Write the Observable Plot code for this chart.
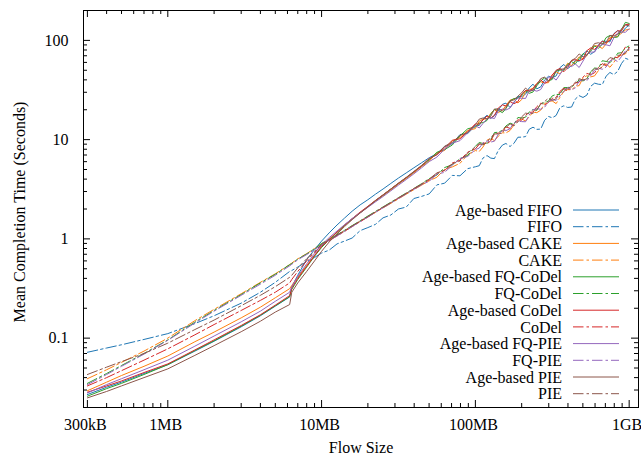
<!DOCTYPE html>
<html><head><meta charset="utf-8">
<script src="https://cdn.jsdelivr.net/npm/d3@7"></script>
<script src="https://cdn.jsdelivr.net/npm/@observablehq/plot@0.6"></script>
<style>html,body{margin:0;padding:0;background:#fff;} svg{display:block;}</style>
</head><body><div id="chart"></div>
<script>
// Flow sizes in MB
const sizesLow = [0.3,0.4,0.5,0.7,1,1.5,2,3,4,5,6.2];
const sizesStep = [6.4,7,8,9];
const sizesHigh = [10,11.2,12.6,14.1,15.8,17.8,20,22.4,25.1,28.2,31.6,35.5,39.8,44.7,50.1,56.2,63.1,70.8,79.4,89.1,100,112,126,141,158,178,200,224,251,282,316,355,398,447,501,562,631,708,794,891,1000];
const sizesMB = [...sizesLow, ...sizesStep, ...sizesHigh];
// extra flow sizes in the dense (noisy) range
const sizesMid = [106,119,133,150,168,189,212,237,266,299,335,376,422,473,531,596,669,750,842,945];

const seriesNames = ["Age-based FIFO","FIFO","Age-based CAKE","CAKE","Age-based FQ-CoDel","FQ-CoDel","Age-based CoDel","CoDel","Age-based FQ-PIE","FQ-PIE","Age-based PIE","PIE"];
const seriesColors = ["#1f77b4","#1f77b4","#ff7f0e","#ff7f0e","#2ca02c","#2ca02c","#d62728","#d62728","#9467bd","#9467bd","#8c564b","#8c564b"];
const seriesDashed = [false,true,false,true,false,true,false,true,false,true,false,true];

// Mean completion time (s) at sizesMB
const ageFIFO = [0.027,0.032,0.036,0.044,0.054,0.074,0.093,0.13,0.168,0.21,0.26,
  0.33,0.43,0.62,0.78,
  0.95,1.15,1.38,1.62,1.9,2.2,2.48,2.82,3.18,3.62,4.1,4.62,5.2,5.85,6.57,7.24,8.5,9.11,11.24,11.52,13.74,16.22,16.34,19.88,23.33,23.47,27.2,33.25,32.49,39.94,42.14,53.13,51.84,62.83,72.76,72.38,90.3,97.97,116.6,118.3,142.5];
const fifo = [0.072,0.0795,0.0857,0.097,0.111,0.14,0.168,0.225,0.29,0.365,0.47,
  0.48,0.52,0.59,0.65,
  0.72,0.77,0.89,0.95,1.02,1.21,1.3,1.4,1.63,1.74,2.0,2.09,2.55,2.68,2.84,3.5,3.64,4.36,4.32,5.1,5.33,6.52,6.51,7.8,9.15,9.17,10.59,12.72,12.69,15.66,16.59,21.06,21.09,25.7,26.6,34.45,36.16,43.58,45.22,58.32,63.86];
const ageCAKE = [0.0295,0.036,0.042,0.052,0.066,0.092,0.115,0.16,0.205,0.255,0.315,
  0.34,0.41,0.54,0.68,
  0.83,0.99,1.17,1.36,1.58,1.83,2.1,2.4,2.72,3.1,3.56,4.05,4.62,5.35,6.08,7.38,7.78,9.75,10.5,12.36,12.92,16.07,18.4,18.72,22.03,25.65,25.3,31.72,36.94,37.25,45.15,45.89,58.86,61,65.28,82.39,87.72,92.15,108,118.3,128.8];
const cake = [0.039,0.048,0.057,0.074,0.1,0.15,0.195,0.28,0.365,0.445,0.55,
  0.57,0.63,0.71,0.8,
  0.89,0.98,1.09,1.21,1.35,1.5,1.67,1.85,2.05,2.28,2.53,2.82,3.13,3.48,3.85,4.18,5.03,5.31,5.77,7.05,7.76,8.41,10.35,10.85,11.68,14.06,16.16,17.0,18.69,23.05,24.54,26.7,31.9,34.37,41.81,42.85,49.59,57.94,59.88,70.79,80];
const ageFQCoDel = [0.026,0.031,0.035,0.043,0.054,0.075,0.094,0.132,0.17,0.212,0.262,
  0.31,0.39,0.52,0.67,
  0.82,0.98,1.16,1.37,1.59,1.84,2.11,2.43,2.76,3.17,3.62,4.13,4.72,5.45,6.26,7.46,7.94,8.83,10.92,12.84,13.46,14.84,18.06,19.69,20.52,25.89,28.02,29.28,34.88,41.86,40.42,50.23,57.24,57.95,73.44,77.77,83.42,106.7,106.9,128.1,148];
const fqCoDel = [0.035,0.044,0.053,0.07,0.096,0.145,0.19,0.275,0.36,0.44,0.55,
  0.565,0.625,0.705,0.795,
  0.9,0.99,1.1,1.22,1.36,1.52,1.7,1.89,2.1,2.34,2.6,2.9,3.22,3.6,4.05,4.4,5.23,5.59,6.45,6.91,8.56,9.13,9.95,11.87,13.72,14.2,16.48,18.97,19.7,23.5,27.58,28.4,33.5,36.52,38.99,48.26,52.12,61.34,63.7,75.08,88];
const ageCoDel = [0.0285,0.033,0.037,0.045,0.055,0.076,0.096,0.134,0.172,0.215,0.268,
  0.32,0.4,0.53,0.68,
  0.84,0.99,1.17,1.38,1.6,1.86,2.13,2.44,2.78,3.18,3.63,4.14,4.74,5.44,6.45,7.03,8.26,9.84,10.19,12,14.42,15.76,16.51,20.84,21.82,22.99,28.83,31.11,36.59,36.86,44.72,52.16,52.92,64.05,64.6,83.93,88.58,94.09,115.6,124.4,145.2];
const coDel = [0.033,0.04,0.047,0.06,0.078,0.108,0.137,0.19,0.24,0.29,0.36,
  0.39,0.47,0.6,0.73,
  0.86,0.96,1.07,1.19,1.33,1.49,1.66,1.86,2.08,2.31,2.58,2.87,3.2,3.56,3.93,4.58,4.88,5.81,6.2,7.47,8.08,9.31,9.75,11.64,13.46,14.48,15.68,18.8,21.51,22.37,26.06,30.67,30.94,37.23,42.61,45.1,53.13,55.66,68.16,73.65,84.8];
const ageFQPIE = [0.028,0.034,0.039,0.048,0.06,0.083,0.105,0.146,0.187,0.235,0.29,
  0.33,0.42,0.56,0.71,
  0.87,1.03,1.2,1.39,1.6,1.83,2.08,2.36,2.67,3.05,3.48,3.96,4.52,5.2,6.01,6.67,8.02,9.2,9.77,11.76,13.87,14.54,16.68,19.49,19.87,23.96,26.11,31.11,30.78,37.25,43,45.4,55.62,57.95,61.88,76.23,87.72,90.21,105.8,122,131.5];
const fqPIE = [0.034,0.043,0.052,0.069,0.095,0.142,0.187,0.27,0.35,0.43,0.535,
  0.555,0.615,0.695,0.78,
  0.87,0.97,1.07,1.19,1.33,1.49,1.66,1.85,2.06,2.29,2.55,2.84,3.15,3.51,3.81,4.49,4.68,5.53,6.45,6.77,7.92,9.22,9.45,11.3,12.32,14.77,15.2,17.72,20.5,21.24,25.3,27.55,33.5,33.29,40.2,44.2,52.62,53.96,64.34,68.64,81.6];
const agePIE = [0.025,0.029,0.033,0.04,0.049,0.067,0.084,0.116,0.148,0.183,0.218,
  0.29,0.36,0.47,0.6,
  0.75,0.93,1.12,1.33,1.56,1.82,2.1,2.42,2.77,3.18,3.65,4.16,4.78,5.5,6.39,7.1,8.59,9.38,11.03,11.76,14.14,16.52,17.2,20.46,20.95,25.17,29.65,30.5,35.91,42.62,41.71,51.2,55.08,65.88,68,80.85,94.6,95.06,112.3,130.5,139.7];
const pie = [0.043,0.051,0.058,0.07,0.089,0.122,0.152,0.212,0.27,0.33,0.41,
  0.43,0.51,0.63,0.75,
  0.88,0.98,1.09,1.21,1.35,1.51,1.68,1.87,2.08,2.32,2.58,2.87,3.19,3.55,4.01,4.62,4.93,5.7,6.08,7.33,8.48,8.86,10.55,11.41,13.21,13.77,16.96,18.26,20.1,24.18,24.79,29.54,32.54,37.95,39.8,47.36,51.11,60.78,65.61,71.5,84];

// Mean completion time (s) at sizesMid
const ageFIFOMid = [13.9,17.6,17.4,22.7,21.1,27.1,28.7,36.2,34.0,43.5,43.8,57.2,55.6,61.7,78.4,77.2,97.9,96.6,125.7,133.0];
const fifoMid = [5.46,6.91,6.44,8.82,8.52,10.57,10.73,13.34,12.76,17.1,17.51,21.92,21.29,27.72,28.09,37.07,35.88,47.51,48.66,65.98];
const ageCAKEMid = [15.4,16.2,20.0,19.8,25.0,23.4,30.5,33.0,38.2,37.5,48.3,51.3,55.7,68.2,70.1,88.5,82.7,106.1,109.8,127.3];
const cakeMid = [7.6,9.85,9.75,11.72,12.36,15.56,15.42,18.92,19.83,24.28,23.06,30.77,31.81,35.04,44.02,43.91,54.31,53.61,68.61,73.14];
const ageFQCoDelMid = [14.7,15.6,20.2,18.7,24.6,26.2,31.2,30.2,39.1,39.1,49.0,50.0,61.1,65.7,71.1,87.9,91.3,112.1,108.1,151.9];
const fqCoDelMid = [9.38,9.16,11.78,12.42,14.66,16.72,16.84,20.11,23.11,24.52,28.55,33.43,33.96,40.03,41.01,52.7,62.4,60.02,74.25,83.99];
const ageCoDelMid = [14.3,17.3,17.6,22.4,24.2,24.1,31.2,32.5,40.0,38.8,49.9,48.3,62.6,62.4,78.7,81.1,98.6,100.6,124.8,144.2];
const coDelMid = [8.96,9.05,11.34,12.17,12.99,15.83,17.58,18.95,23.26,23.74,26.67,32.97,34.09,37.92,46.49,47.16,58.21,60.05,66.66,85.57];
const ageFQPIEMid = [13.1,16.2,16.3,20.3,20.8,26.3,26.0,31.6,32.0,42.5,39.8,52.0,54.5,53.3,72.5,76.2,90.7,88.2,118.5,120.4];
const fqPIEMid = [8.23,9.71,9.65,12.4,12.87,15.29,15.14,20.07,20.24,23.97,24.84,30.53,31.73,38.96,39.25,49.86,51.16,62.11,61.17,78.12];
const agePIEMid = [16.1,16.2,20.3,19.5,24.4,27.4,33.1,31.5,41.2,39.2,49.7,51.5,62.9,73.0,70.7,93.0,92.0,112.0,114.1,143.2];
const pieMid = [9.1,9.42,11.42,11.69,14.43,15.06,18.49,18.41,22.8,26.2,25.81,32.28,34.55,41.21,40.97,51.7,54.27,66.99,70.62,74.64];

const seriesValues = [ageFIFO,fifo,ageCAKE,cake,ageFQCoDel,fqCoDel,ageCoDel,coDel,ageFQPIE,fqPIE,agePIE,pie];
const seriesMid = [ageFIFOMid,fifoMid,ageCAKEMid,cakeMid,ageFQCoDelMid,fqCoDelMid,ageCoDelMid,coDelMid,ageFQPIEMid,fqPIEMid,agePIEMid,pieMid];

// Axis ticks
const xMajor = [0.3,1,10,100,1000];
const xMajorLabels = ["300kB","1MB","10MB","100MB","1GB"];
const xMinor = [0.4,0.5,0.6,0.7,0.8,0.9,2,3,4,5,6,7,8,9,20,30,40,50,60,70,80,90,200,300,400,500,600,700,800,900];
const yMajor = [0.1,1,10,100];
const yMajorLabels = ["0.1","1","10","100"];
const yMinor = [0.03,0.04,0.05,0.06,0.07,0.08,0.09,0.2,0.3,0.4,0.5,0.6,0.7,0.8,0.9,2,3,4,5,6,7,8,9,20,30,40,50,60,70,80,90];

const seriesData = seriesNames.map((name, s) => d3.sort([
  ...sizesMB.map((x, i) => ({name, x, y: seriesValues[s][i]})),
  ...sizesMid.map((x, i) => ({name, x, y: seriesMid[s][i]}))
], d => d.x));

const W = 641, H = 458, ML = 83, MR = 3, MT = 10, MB = 51;
const FW = W - ML - MR, FH = H - MT - MB;
const MAJ = 7, MIN = 4;
const FONT = "Liberation Serif, Times New Roman, serif";
const DASH = "10.5,3,2.5,3";

const lineMarks = seriesNames.map((name, s) => Plot.line(seriesData[s], {
  x: "x", y: "y", stroke: seriesColors[s], strokeWidth: 1,
  strokeDasharray: seriesDashed[s] ? DASH : null
}));

const chart = Plot.plot({
  width: W, height: H,
  marginLeft: ML, marginRight: MR, marginTop: MT, marginBottom: MB,
  style: {fontFamily: FONT, fontSize: "16px", background: "#fff", color: "#000"},
  x: {type: "log", domain: [0.283, 1150], label: null, axis: null},
  y: {type: "log", domain: [0.02, 200], label: null, axis: null},
  marks: [
    ...lineMarks,
    // inward ticks on all four sides
    Plot.ruleX(xMajor, {x: d => d, insetTop: FH - MAJ, stroke: "#000"}),
    Plot.ruleX(xMajor, {x: d => d, insetBottom: FH - MAJ, stroke: "#000"}),
    Plot.ruleX(xMinor, {x: d => d, insetTop: FH - MIN, stroke: "#000"}),
    Plot.ruleX(xMinor, {x: d => d, insetBottom: FH - MIN, stroke: "#000"}),
    Plot.ruleY(yMajor, {y: d => d, insetRight: FW - MAJ, stroke: "#000"}),
    Plot.ruleY(yMajor, {y: d => d, insetLeft: FW - MAJ, stroke: "#000"}),
    Plot.ruleY(yMinor, {y: d => d, insetRight: FW - MIN, stroke: "#000"}),
    Plot.ruleY(yMinor, {y: d => d, insetLeft: FW - MIN, stroke: "#000"}),
    Plot.frame({stroke: "#000", strokeWidth: 1}),
    // tick labels
    Plot.text(xMajor, {x: d => d, frameAnchor: "bottom", dy: 17, dx: -2, lineAnchor: "middle", textAnchor: "middle", fontSize: 16, text: (d, i) => xMajorLabels[i]}),
    Plot.text(yMajor, {y: d => d, frameAnchor: "left", dx: -15, textAnchor: "end", lineAnchor: "middle", fontSize: 16, text: (d, i) => yMajorLabels[i]}),
    // axis titles
    Plot.text(["Mean Completion Time (Seconds)"], {frameAnchor: "left", dx: -64, dy: 3, rotate: -90, textAnchor: "middle", lineAnchor: "middle", fontSize: 16, text: d => d}),
    Plot.text(["Flow Size"], {frameAnchor: "bottom", dy: 40, textAnchor: "middle", lineAnchor: "middle", fontSize: 16, text: d => d})
  ]
});

document.getElementById("chart").appendChild(chart);

// Legend (inside the plot frame, lower right)
const svg = d3.select(chart);
const lg = svg.append("g").attr("font-family", FONT).attr("font-size", 16);
seriesNames.forEach((name, i) => {
  const yy = 210 + i * 16.7;
  lg.append("text").attr("x", 562).attr("y", yy).attr("dy", "0.35em")
    .attr("text-anchor", "end").attr("fill", "#000").text(name);
  lg.append("line").attr("x1", 573).attr("x2", 619).attr("y1", yy).attr("y2", yy)
    .attr("stroke", seriesColors[i]).attr("stroke-width", 1)
    .attr("stroke-dasharray", seriesDashed[i] ? DASH : null);
});
</script>
</body></html>
